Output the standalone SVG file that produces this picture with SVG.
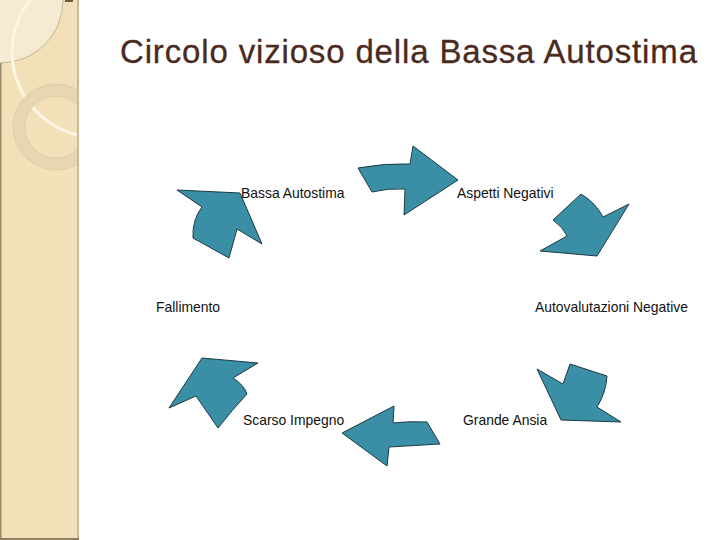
<svg xmlns="http://www.w3.org/2000/svg" width="720" height="540" viewBox="0 0 720 540">
<defs>
<style>
.arrow{fill:#3a8ea5;stroke:#1c3b42;stroke-width:1;stroke-linejoin:round}
.lbl{font-family:"Liberation Sans",Arial,sans-serif;font-size:13.9px;fill:#111}
.title{font-family:"Liberation Sans",Arial,sans-serif;font-size:33px;fill:#4b2a20;stroke:#4b2a20;stroke-width:0.3}
</style>
<clipPath id="strip"><rect x="0" y="0" width="77" height="540"/></clipPath>
</defs>
<rect width="720" height="540" fill="#ffffff"/>
<g id="sidebar">
<rect x="0" y="0" width="79" height="540" fill="#c9bb9b"/>
<rect x="0" y="0" width="77" height="538" fill="#f1e0b8"/>
<rect x="0" y="0" width="1.5" height="540" fill="#9a8a68"/>
<rect x="0" y="538" width="79" height="2" fill="#8f7f5e"/>
<g clip-path="url(#strip)">
<circle cx="0" cy="0" r="63" fill="#f5ead2" stroke="#b8a886" stroke-width="0.8"/>
<circle cx="97" cy="52" r="85" fill="none" stroke="#fcf6e4" stroke-width="3"/>
<circle cx="56" cy="127" r="37" fill="none" stroke="#e6d7b2" stroke-width="12"/>
<circle cx="56" cy="127" r="43" fill="none" stroke="#d8c9a4" stroke-width="0.7"/>
<circle cx="56" cy="127" r="31" fill="none" stroke="#d8c9a4" stroke-width="0.7"/>
</g>
<rect x="65" y="0" width="8" height="2" fill="#6b5a40"/>
</g>
<text class="title" x="120" y="63" textLength="577" lengthAdjust="spacing">Circolo vizioso della Bassa Autostima</text>
<g id="connectors">
<path id="arrow-top" class="arrow" d="M358,168 L372,192 Q388,188 405,189 L404,215 L458,180 L413,146 L410,164 Q385,163 358,168 Z"/>
<path id="arrow-upper-right" class="arrow" d="M553,220 L581,194 Q596,203 603,217 L629,204 L597,256 L540,251 L567,236 Q563,227 553,220 Z"/>
<path id="arrow-lower-right" class="arrow" d="M537,369 L563,384 L570,364 L607,376 Q606,393 597,407 L621,422 L561,420 Z"/>
<path id="arrow-bottom" class="arrow" d="M342,433 L394,406 L393,423 Q410,421 427,422 L440,444 L389,447 L387,466 Z"/>
<path id="arrow-lower-left" class="arrow" d="M169,408 L202,358 L258,363 L233,378 Q244,385 247,394 Q232,410 218,428 L196,396 Z"/>
<path id="arrow-upper-left" class="arrow" d="M177,190 L240,193 L262,244 L237,229 L229,258 L193,238 Q192,220 202,207 Z"/>
</g>
<g id="node-bassa-autostima"><text class="lbl" x="241" y="198">Bassa Autostima</text></g>
<g id="node-aspetti-negativi"><text class="lbl" x="457" y="198">Aspetti Negativi</text></g>
<g id="node-autovalutazioni"><text class="lbl" x="535" y="312">Autovalutazioni Negative</text></g>
<g id="node-grande-ansia"><text class="lbl" x="463" y="425">Grande Ansia</text></g>
<g id="node-scarso-impegno"><text class="lbl" x="243" y="425">Scarso Impegno</text></g>
<g id="node-fallimento"><text class="lbl" x="156" y="312">Fallimento</text></g>
</svg>
